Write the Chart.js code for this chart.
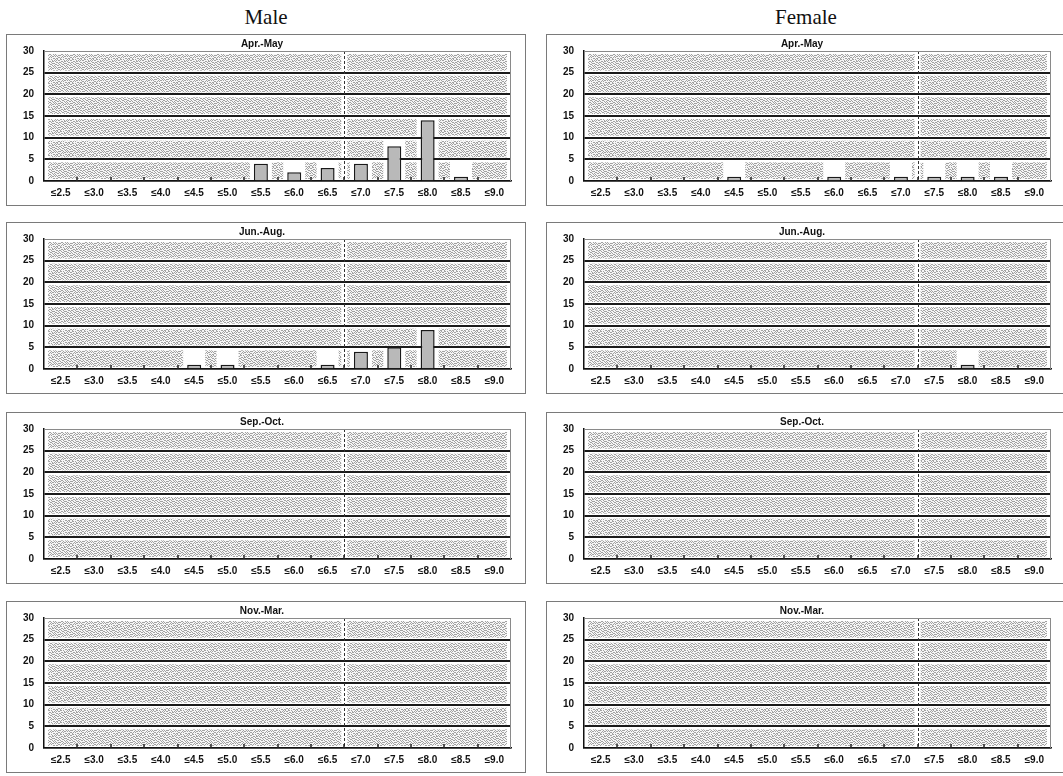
<!DOCTYPE html>
<html>
<head>
<meta charset="utf-8">
<script src="https://cdn.jsdelivr.net/npm/chart.js@4.4.1/dist/chart.umd.min.js"></script>
<style>
  html, body { margin: 0; padding: 0; background: #fff; overflow: hidden; }
  body { width: 1063px; height: 776px; position: relative; }
  .head { position: absolute; top: 5px; width: 520px; text-align: center;
          font-family: "Liberation Serif", "Times New Roman", serif; font-size: 21px; color: #111; }
  .panel { position: absolute; width: 518px; height: 170px; border: 1.5px solid #7a7a7a; background: #fff; }
  .panel canvas { position: absolute; left: 0; top: 0; }
</style>
</head>
<body>
<div class="head" style="left:6px">Male</div>
<div class="head" style="left:546px">Female</div>

<script>
// size classes (mm) shown on the x axis
var categories = ['≤2.5', '≤3.0', '≤3.5', '≤4.0', '≤4.5', '≤5.0', '≤5.5',
                  '≤6.0', '≤6.5', '≤7.0', '≤7.5', '≤8.0', '≤8.5', '≤9.0'];
var periods = ['Apr.-May', 'Jun.-Aug.', 'Sep.-Oct.', 'Nov.-Mar.'];
var yTicks = [0, 5, 10, 15, 20, 25, 30];

// counts per size class
var maleAprMay   = [0, 0, 0, 0, 0, 0, 4, 2, 3, 4, 8, 14, 1, 0];
var maleJunAug   = [0, 0, 0, 0, 1, 1, 0, 0, 1, 4, 5, 9, 0, 0];
var maleSepOct   = [0, 0, 0, 0, 0, 0, 0, 0, 0, 0, 0, 0, 0, 0];
var maleNovMar   = [0, 0, 0, 0, 0, 0, 0, 0, 0, 0, 0, 0, 0, 0];
var femaleAprMay = [0, 0, 0, 0, 1, 0, 0, 1, 0, 1, 1, 1, 1, 0];
var femaleJunAug = [0, 0, 0, 0, 0, 0, 0, 0, 0, 0, 0, 1, 0, 0];
var femaleSepOct = [0, 0, 0, 0, 0, 0, 0, 0, 0, 0, 0, 0, 0, 0];
var femaleNovMar = [0, 0, 0, 0, 0, 0, 0, 0, 0, 0, 0, 0, 0, 0];

// dashed divider sits right after this class
var maleDivider = '≤6.5';
var femaleDivider = '≤7.0';

var maleSeries = [maleAprMay, maleJunAug, maleSepOct, maleNovMar];
var femaleSeries = [femaleAprMay, femaleJunAug, femaleSepOct, femaleNovMar];

var rowTops = [34, 222, 412, 601];

// stipple fill like the scanned background
var bits = ['101001101000', '010110000101', '100000110110', '011011001000',
            '000100100111', '110010011000', '001101000101', '100000110010',
            '010111001001', '101000010110', '000110101000', '011001000011'];
function makeStipple() {
  var n = bits.length;
  var c = document.createElement('canvas');
  c.width = n; c.height = n;
  var g = c.getContext('2d');
  g.fillStyle = '#f6f6f6';
  g.fillRect(0, 0, n, n);
  g.fillStyle = '#a2a2a2';
  for (var r = 0; r < n; r++)
    for (var k = 0; k < n; k++)
      if (bits[r][k] === '1') g.fillRect(k, r, 1, 1);
  return c;
}
var stippleCanvas = makeStipple();

function dividerX(xs, name) {
  var di = categories.indexOf(name);
  return (xs.getPixelForValue(di) + xs.getPixelForValue(di + 1)) / 2;
}

var backdrop = {
  id: 'backdrop',
  beforeDraw: function(chart, args, opts) {
    var ctx = chart.ctx, a = chart.chartArea;
    var ys = chart.scales.y, xs = chart.scales.x;
    ctx.save();
    ctx.fillStyle = ctx.createPattern(stippleCanvas, 'repeat');
    for (var i = 0; i < yTicks.length - 1; i++) {
      var yb = ys.getPixelForValue(yTicks[i]);
      var yt = ys.getPixelForValue(yTicks[i + 1]);
      ctx.fillRect(a.left + 4, yt + 3, a.right - a.left - 8, yb - yt - 5);
    }
    // white gap around divider
    var dx = dividerX(xs, opts.divider);
    ctx.fillStyle = '#fff';
    ctx.fillRect(dx - 3, a.top, 6, a.bottom - a.top);
    // white columns around bars
    var meta = chart.getDatasetMeta(0);
    var data = chart.data.datasets[0].data;
    meta.data.forEach(function(bar, j) {
      if (!data[j]) return;
      var top = ys.getPixelForValue(Math.ceil(data[j] / 5) * 5);
      ctx.fillRect(bar.x - bar.width / 2 - 4, top, bar.width + 8, a.bottom - top);
    });
    ctx.restore();
  },
  afterDatasetsDraw: function(chart, args, opts) {
    var ctx = chart.ctx, a = chart.chartArea, xs = chart.scales.x;
    var dx = Math.round(dividerX(xs, opts.divider)) + 0.5;
    ctx.save();
    ctx.strokeStyle = '#333';
    ctx.lineWidth = 1;
    ctx.setLineDash([3, 2]);
    ctx.beginPath();
    ctx.moveTo(dx, a.top);
    ctx.lineTo(dx, a.bottom);
    ctx.stroke();
    ctx.setLineDash([]);
    // frame of the plot area
    ctx.strokeStyle = '#8a8a8a';
    ctx.lineWidth = 1;
    ctx.beginPath();
    ctx.moveTo(a.left, a.top + 0.5);
    ctx.lineTo(a.right - 0.5, a.top + 0.5);
    ctx.lineTo(a.right - 0.5, a.bottom);
    ctx.stroke();
    // small tick marks between classes, pointing up
    ctx.strokeStyle = '#222';
    ctx.lineWidth = 1.5;
    for (var i = 1; i < categories.length; i++) {
      var x = Math.round((xs.getPixelForValue(i - 1) + xs.getPixelForValue(i)) / 2);
      ctx.beginPath();
      ctx.moveTo(x, a.bottom);
      ctx.lineTo(x, a.bottom - 4);
      ctx.stroke();
    }
    ctx.restore();
  }
};

function makePanel(left, top, title, values, divider) {
  var div = document.createElement('div');
  div.className = 'panel';
  div.style.left = left + 'px';
  div.style.top = top + 'px';
  var cv = document.createElement('canvas');
  cv.width = 518;
  cv.height = 170;
  cv.style.width = '518px';
  cv.style.height = '170px';
  div.appendChild(cv);
  document.body.appendChild(div);

  new Chart(cv, {
    type: 'bar',
    data: {
      labels: categories,
      datasets: [{
        data: values,
        backgroundColor: '#b9b9b9',
        borderColor: '#1a1a1a',
        borderWidth: function(c) { return c.raw ? 1.5 : 0; },
        barPercentage: 0.42,
        categoryPercentage: 1.0
      }]
    },
    plugins: [backdrop],
    options: {
      responsive: false,
      animation: false,
      devicePixelRatio: 1,
      layout: { padding: { left: 6, right: 14, top: 0, bottom: 0 } },
      plugins: {
        legend: { display: false },
        tooltip: { enabled: false },
        title: {
          display: true,
          text: title,
          color: '#111',
          font: { family: 'Arial, "Liberation Sans", sans-serif', size: 10, weight: 'bold' },
          padding: { top: 3, bottom: 1 }
        },
        backdrop: { divider: divider }
      },
      scales: {
        x: {
          grid: { display: false, drawTicks: false },
          border: { display: true, color: '#111', width: 1.5 },
          ticks: {
            autoSkip: false, maxRotation: 0, padding: 6, color: '#111',
            font: { family: 'Arial, "Liberation Sans", sans-serif', size: 10, weight: 'bold' }
          }
        },
        y: {
          min: 0, max: 30,
          afterBuildTicks: function(s) { s.ticks = yTicks.map(function(v) { return { value: v }; }); },
          grid: {
            drawTicks: false,
            color: function(c) { return c.tick.value === 30 ? '#8a8a8a' : '#1a1a1a'; },
            lineWidth: function(c) { return c.tick.value === 30 ? 1 : (c.tick.value === 0 ? 1.5 : 2); }
          },
          border: { display: true, color: '#111', width: 1.5 },
          ticks: {
            padding: 10, color: '#111',
            font: { family: 'Arial, "Liberation Sans", sans-serif', size: 10, weight: 'bold' }
          }
        }
      }
    }
  });
}

for (var r = 0; r < 4; r++) {
  makePanel(6, rowTops[r], periods[r], maleSeries[r], maleDivider);
  makePanel(546, rowTops[r], periods[r], femaleSeries[r], femaleDivider);
}
</script>
</body>
</html>
